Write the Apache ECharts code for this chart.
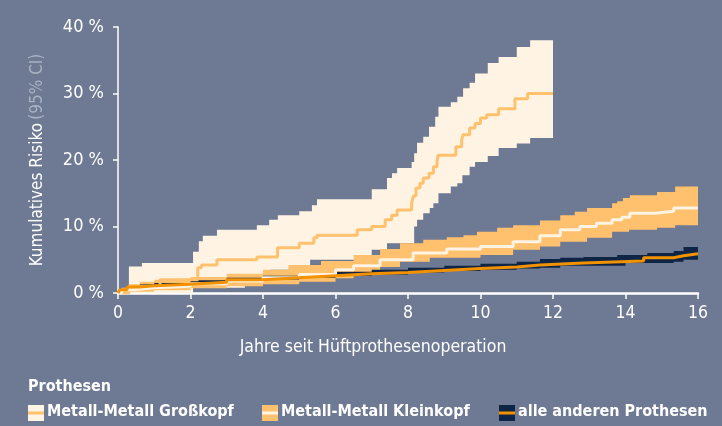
<!DOCTYPE html>
<html><head><meta charset="utf-8">
<script src="https://cdn.jsdelivr.net/npm/echarts@6/dist/echarts.min.js"></script>
<style>html,body{margin:0;padding:0;background:#6e7993;}#c{width:722px;height:426px;}</style>
</head><body><div id="c"></div>
<script>
// ---- data: [years, cumulative risk %], step values holding from t until next t ----
const xTicks = [0, 2, 4, 6, 8, 10, 12, 14, 16];
const yTicks = [0, 10, 20, 30, 40];
const seriesNames = ['Metall-Metall Großkopf', 'Metall-Metall Kleinkopf', 'alle anderen Prothesen'];

const grossUpper = [[0.3,4.0],[0.66,4.5],[2.07,6.2],[2.23,7.8],[2.34,8.6],[2.73,9.5],[3.83,10.2],[4.17,11.0],[4.41,11.7],[5.0,12.3],[5.35,13.2],[5.49,14.1],[7.0,15.6],[7.42,17.3],[7.56,18.0],[7.7,18.8],[8.1,19.7],[8.17,21.0],[8.25,22.6],[8.42,23.5],[8.58,25.0],[8.75,26.5],[8.84,28.0],[9.18,28.7],[9.36,29.5],[9.52,30.8],[9.7,31.6],[9.85,33.0],[10.2,34.6],[10.5,35.5],[11.0,37.0],[11.37,38.0],[12.0,38.0]];
const grossLower = [[0.3,0.0],[2.07,0.8],[3.5,2.0],[4.2,3.5],[5.3,5.0],[7.0,6.5],[7.42,7.5],[8.17,10.0],[8.25,11.0],[8.42,12.0],[8.6,12.8],[8.7,13.5],[8.84,15.0],[9.18,16.0],[9.36,16.5],[9.5,17.7],[9.7,19.0],[9.85,19.7],[10.2,20.6],[10.5,21.8],[11.0,22.5],[11.37,23.3],[12.0,23.3]];
const grossLine = [[0,0],[0.3,1.0],[1.16,2.0],[2.2,3.8],[2.3,4.2],[2.73,5.0],[3.83,5.4],[4.4,6.8],[5.0,7.5],[5.4,8.3],[5.49,8.7],[6.6,9.5],[7.0,10.0],[7.37,11.0],[7.55,11.7],[7.7,12.5],[8.1,13.5],[8.15,14.6],[8.22,15.8],[8.33,16.5],[8.42,17.3],[8.58,18.0],[8.7,19.0],[8.8,19.7],[8.83,20.7],[9.32,22.0],[9.48,23.0],[9.52,23.8],[9.7,24.8],[9.85,25.5],[10.0,26.3],[10.17,26.8],[10.5,27.7],[10.95,29.2],[11.3,30.0],[12.0,30.0]];

const kleinUpper = [[0,0],[0.1,0.8],[0.3,1.3],[0.6,1.7],[1.0,2.0],[2.0,2.4],[3.0,2.9],[4.0,3.5],[4.7,4.2],[5.6,4.8],[6.5,5.7],[7.23,6.6],[7.78,7.5],[8.42,8.0],[9.07,8.4],[9.53,8.7],[9.9,9.2],[10.46,9.8],[10.9,10.2],[11.64,10.9],[12.2,11.7],[12.6,12.2],[12.94,12.8],[13.63,13.5],[13.77,13.8],[13.93,14.3],[14.12,14.7],[14.87,15.2],[15.37,16.0],[16,16.0]];
const kleinLower = [[0,0],[0.3,0.2],[1.0,0.4],[2.0,0.7],[3.0,1.0],[4.0,1.3],[5.0,1.7],[6.0,2.2],[6.5,2.8],[7.0,3.4],[7.23,3.9],[7.78,4.7],[8.6,5.3],[10.0,5.7],[10.9,6.5],[11.64,7.0],[12.2,7.7],[12.94,8.3],[13.63,9.2],[14.1,9.5],[14.87,9.8],[15.37,10.2],[16,10.2]];
const kleinLine = [[0,0],[0.1,0.5],[0.4,0.8],[1.0,1.0],[2.0,1.4],[3.0,1.8],[4.0,2.3],[5.0,2.8],[6.0,3.5],[6.5,4.1],[7.23,5.0],[8.14,6.0],[9.07,6.6],[10.0,7.0],[10.9,7.7],[11.64,8.6],[12.2,9.5],[12.74,10.0],[13.2,10.5],[13.63,11.0],[13.9,11.4],[14.12,12.0],[14.83,12.3],[15.33,12.8],[16,12.8]];

const otherUpper = [[0,0],[0.05,0.7],[0.25,1.1],[0.6,1.3],[1,1.5],[2,1.9],[3,2.3],[4,2.6],[5,2.9],[6,3.2],[7,3.5],[8,3.8],[9,4.1],[10,4.4],[11,4.7],[11.64,5.1],[12.2,5.3],[12.84,5.4],[13.77,5.7],[14.6,6.0],[15.33,6.3],[15.6,6.9],[16,6.9]];
const otherLower = [[0,0],[0.05,0.3],[0.25,0.7],[0.6,0.9],[1,1.1],[2,1.4],[3,1.7],[4,2.0],[5,2.3],[6,2.6],[7,2.8],[8,3.1],[9,3.3],[10,3.5],[11,3.7],[11.64,3.8],[12.2,4.1],[14.0,4.5],[15.33,4.7],[15.6,5.0],[16,5.0]];
const otherLine = [[0,0],[0.05,0.5],[0.25,0.9],[0.6,1.1],[1,1.3],[2,1.6],[3,2.0],[4,2.3],[5,2.6],[6,2.9],[7,3.1],[8,3.4],[9,3.7],[10,3.9],[11,4.2],[11.64,4.5],[12.84,4.8],[14.5,5.3],[15.33,5.6],[15.6,5.9],[16,5.9]];

// ---- colours ----
const C_BG = '#6e7993', C_CREAM = '#fff4e4', C_LORANGE = '#ffc16e', C_NAVY = '#0f2545', C_ORANGE = '#f39200';
const FONT = '"DejaVu Sans Condensed","DejaVu Sans",sans-serif';

function stepPts(arr) {
  const out = [];
  for (let i = 0; i < arr.length; i++) {
    out.push(arr[i]);
    if (i < arr.length - 1) out.push([arr[i + 1][0], arr[i][1]]);
  }
  return out;
}
function band(name, upper, lower, color) {
  return {
    name: name, type: 'custom', silent: true, data: [[0, 0]],
    renderItem: function (params, api) {
      const pts = stepPts(upper).map(p => api.coord(p))
        .concat(stepPts(lower).reverse().map(p => api.coord(p)));
      return { type: 'polygon', shape: { points: pts }, style: { fill: color } };
    }
  };
}
function line(name, data, color) {
  return { name: name, type: 'line', step: 'end', data: data, showSymbol: false, silent: true,
    lineStyle: { color: color, width: 3 }, animation: false };
}

const chart = echarts.init(document.getElementById('c'), null, { renderer: 'canvas' });
const legendItems = [
  { x: 28, fill: C_CREAM, stripe: C_LORANGE, text: seriesNames[0] },
  { x: 262, fill: C_LORANGE, stripe: C_CREAM, text: seriesNames[1] },
  { x: 499, fill: C_NAVY, stripe: C_ORANGE, text: seriesNames[2] }
];
const graphics = [{ type: 'text', left: 28, top: 379, style: { text: 'Prothesen', fill: '#fff', font: 'bold 16px ' + FONT } }];
legendItems.forEach(it => {
  graphics.push({ type: 'rect', shape: { x: it.x, y: 405, width: 16, height: 16 }, style: { fill: it.fill } });
  graphics.push({ type: 'rect', shape: { x: it.x, y: 411.5, width: 16, height: 3 }, style: { fill: it.stripe } });
  graphics.push({ type: 'text', left: it.x + 19, top: 404, style: { text: it.text, fill: '#fff', font: 'bold 16px ' + FONT } });
});

chart.setOption({
  backgroundColor: C_BG,
  animation: false,
  grid: { left: 118, right: 24, top: 27, bottom: 133, containLabel: false },
  xAxis: {
    type: 'value', min: xTicks[0], max: xTicks[xTicks.length - 1], interval: 2,
    name: 'Jahre seit Hüftprothesenoperation', nameLocation: 'middle', nameGap: 45,
    nameTextStyle: { color: '#fff', fontFamily: FONT, fontSize: 17.5, padding: [0, 70, 0, 0] },
    axisLine: { lineStyle: { color: '#fff', width: 2.5 } },
    axisTick: { show: true, length: 6, lineStyle: { color: '#fff', width: 1.5 } },
    axisLabel: { color: '#fff', fontFamily: FONT, fontSize: 17.5, margin: 11 },
    splitLine: { show: false }
  },
  yAxis: {
    type: 'value', min: yTicks[0], max: yTicks[yTicks.length - 1], interval: 10,
    name: '{a|Kumulatives Risiko} {b|(95% CI)}', nameLocation: 'middle', nameRotate: 90, nameGap: 72,
    nameTextStyle: { rich: {
      a: { color: '#fff', fontFamily: FONT, fontSize: 17 },
      b: { color: '#a9b1c3', fontFamily: FONT, fontSize: 17 } } },
    axisLine: { show: true, lineStyle: { color: '#fff', width: 1.5 } },
    axisTick: { show: true, length: 5, lineStyle: { color: '#fff', width: 1.5 } },
    axisLabel: { color: '#fff', fontFamily: FONT, fontSize: 18, margin: 14, formatter: v => v + ' %' },
    splitLine: { show: false }
  },
  graphic: graphics,
  series: [
    band(seriesNames[0], grossUpper, grossLower, C_CREAM),
    line(seriesNames[0], grossLine, C_LORANGE),
    band(seriesNames[1], kleinUpper, kleinLower, C_LORANGE),
    line(seriesNames[1], kleinLine, C_CREAM),
    band(seriesNames[2], otherUpper, otherLower, C_NAVY),
    line(seriesNames[2], otherLine, C_ORANGE)
  ]
});
</script></body></html>
